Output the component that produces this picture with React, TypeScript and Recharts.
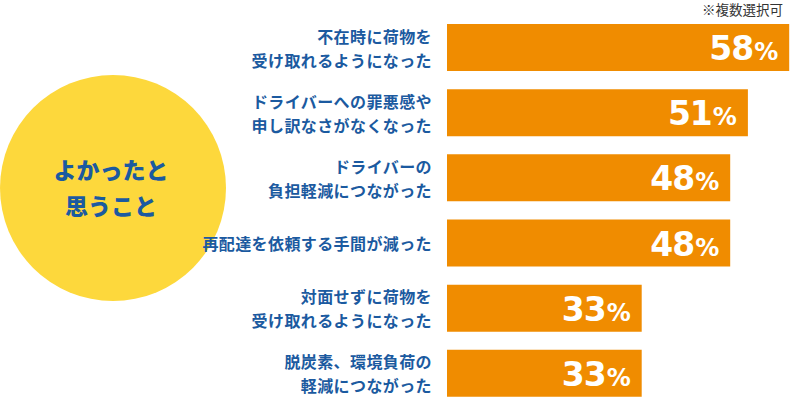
import React from "react";
import { BarChart, Bar, XAxis, YAxis, LabelList } from "recharts";

const categories = [
  "不在時に荷物を\n受け取れるようになった",
  "ドライバーへの罪悪感や\n申し訳なさがなくなった",
  "ドライバーの\n負担軽減につながった",
  "再配達を依頼する手間が減った",
  "対面せずに荷物を\n受け取れるようになった",
  "脱炭素、環境負荷の\n軽減につながった",
];
const values = [58, 51, 48, 48, 33, 33];
const titleLines = ["よかったと", "思うこと"];
const noteText = "※複数選択可";

const data = categories.map((name, i) => ({ name, value: values[i] }));

const BLUE = "#1b5aa0";
const ORANGE = "#f08c00";
const YELLOW = "#fdd83c";
const JP = '"Noto Sans CJK JP", "Noto Sans", sans-serif';

const CategoryTick = (props: any) => {
  const { x, y, payload } = props;
  const lines = String(payload.value).split("\n");
  const lh = 24;
  const start = y - ((lines.length - 1) * lh) / 2;
  return (
    <g>
      {lines.map((l: string, i: number) => (
        <text
          key={i}
          x={x}
          y={start + i * lh}
          textAnchor="end"
          dominantBaseline="central"
          fill={BLUE}
          fontFamily={JP}
          fontWeight={700}
          fontSize={16}
          letterSpacing={0.4}
        >
          {l}
        </text>
      ))}
    </g>
  );
};

const ValueLabel = (props: any) => {
  const { x, y, width, height, value } = props;
  return (
    <text
      x={x + width - 11}
      y={y + height / 2 + 12.5}
      textAnchor="end"
      fill="#ffffff"
      fontFamily='"DejaVu Sans", sans-serif'
      fontWeight={700}
    >
      <tspan fontSize={33} letterSpacing={-1}>{value}</tspan>
      <tspan fontSize={24} dx={1}>%</tspan>
    </text>
  );
};

export default function App() {
  return (
    <div
      style={{
        position: "absolute",
        left: 0,
        top: 0,
        width: 801,
        height: 398,
        overflow: "hidden",
        background: "#ffffff",
      }}
    >
      <svg
        width={801}
        height={398}
        style={{ position: "absolute", left: 0, top: 0 }}
      >
        <circle cx={113} cy={188} r={113} fill={YELLOW} />
        {titleLines.map((t, i) => (
          <text
            key={i}
            x={111}
            y={169 + i * 36}
            textAnchor="middle"
            dominantBaseline="central"
            fill={BLUE}
            fontFamily={JP}
            fontWeight={900}
            fontSize={23}
          >
            {t}
          </text>
        ))}
        <text
          x={783}
          y={9}
          textAnchor="end"
          dominantBaseline="central"
          fill="#333333"
          fontFamily={JP}
          fontSize={13.5}
        >
          {noteText}
        </text>
      </svg>
      <div style={{ position: "absolute", left: 0, top: 0 }}>
        <BarChart
          width={801}
          height={410}
          data={data}
          layout="vertical"
          margin={{ top: 15, right: 0, bottom: 4, left: 0 }}
          barCategoryGap={9}
        >
          <XAxis type="number" domain={[0, 60]} hide />
          <YAxis
            type="category"
            dataKey="name"
            width={447}
            axisLine={false}
            tickLine={false}
            tickSize={0}
            tickMargin={15}
            tick={<CategoryTick />}
            interval={0}
          />
          <Bar dataKey="value" fill={ORANGE} isAnimationActive={false}>
            <LabelList dataKey="value" content={<ValueLabel />} />
          </Bar>
        </BarChart>
      </div>
    </div>
  );
}
